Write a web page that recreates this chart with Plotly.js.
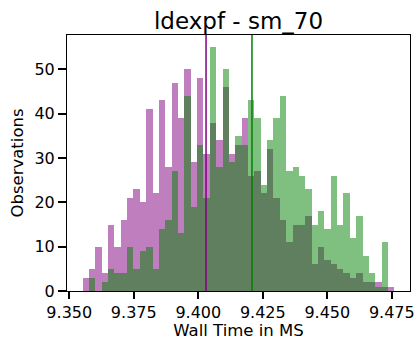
<!DOCTYPE html>
<html>
<head>
<meta charset="utf-8">
<script src="https://cdn.plot.ly/plotly-3.0.1.min.js"></script>
<style>
  html, body { margin: 0; padding: 0; background: #fff; }
  #chart { width: 418px; height: 340px; }
</style>
</head>
<body>
<div id="chart"></div>
<script>
// ---- Data ----
const binStart = 9.35516;      // left edge of the first histogram bin
const binWidth = 0.002466;     // shared bin width
const purpleCounts = [3,5,10,4,15,10,16,21,23,20,41,22,43,28,47,39,50,29,48,31,38,34,46,31,33,39,26,27,22,32,21,16,11,15,15,17,6,10,7,6,5,4,3,4,2,2,2,1,1];
const greenCounts  = [0,3,0,2,5,4,4,10,5,9,10,5,14,16,27,13,44,19,33,21,55,28,50,29,35,33,43,39,24,34,39,44,27,28,26,23,15,18,14,26,15,22,12,17,8,4,1,11,0];
const purpleMean = 9.4030;
const greenMean = 9.4208;
const xTickVals = [9.350, 9.375, 9.400, 9.425, 9.450, 9.475];
const xTickText = ["9.350", "9.375", "9.400", "9.425", "9.450", "9.475"];
const yTickVals = [0, 10, 20, 30, 40, 50];
const titleText = "ldexpf - sm_70";
const xTitle = "Wall Time in MS";
const yTitle = "Observations";

const centers = (arr) => arr.map((_, i) => binStart + (i + 0.5) * binWidth);

const traces = [
  {
    type: 'bar', x: centers(purpleCounts), y: purpleCounts, width: binWidth,
    marker: { color: 'rgba(128,0,128,0.5)', line: { width: 0 } },
    hoverinfo: 'skip', showlegend: false
  },
  {
    type: 'bar', x: centers(greenCounts), y: greenCounts, width: binWidth,
    marker: { color: 'rgba(0,128,0,0.5)', line: { width: 0 } },
    hoverinfo: 'skip', showlegend: false
  }
];

const font = "DejaVu Sans, sans-serif";
const layout = {
  width: 418, height: 340,
  margin: { l: 67, r: 8, t: 35, b: 49, pad: 0 },
  paper_bgcolor: '#fff', plot_bgcolor: '#fff',
  barmode: 'overlay', bargap: 0,
  font: { family: font, size: 16, color: '#000' },
  title: {
    text: titleText, font: { family: font, size: 23, color: '#000' },
    x: 0.5, xref: 'paper', xanchor: 'center',
    y: 1, yref: 'paper', yanchor: 'bottom', pad: { b: 6 }
  },
  xaxis: {
    range: [9.34912, 9.48204], tickmode: 'array', tickvals: xTickVals, ticktext: xTickText,
    ticks: 'outside', ticklen: 7, tickwidth: 2, tickcolor: '#000',
    showline: true, linecolor: '#000', linewidth: 1, mirror: true,
    showgrid: false, zeroline: false,
    tickfont: { family: font, size: 16, color: '#000' },
    title: { text: xTitle, font: { family: font, size: 16.5, color: '#000' }, standoff: 4 }
  },
  yaxis: {
    range: [0, 57.75], tickmode: 'array', tickvals: yTickVals,
    ticks: 'outside', ticklen: 8, tickwidth: 2, tickcolor: '#000',
    showline: true, linecolor: '#000', linewidth: 1, mirror: true,
    showgrid: false, zeroline: false,
    tickfont: { family: font, size: 16, color: '#000' },
    title: { text: yTitle, font: { family: font, size: 16.5, color: '#000' }, standoff: 6 }
  },
  shapes: [
    { type: 'line', xref: 'x', yref: 'paper', x0: purpleMean, x1: purpleMean, y0: 0, y1: 1,
      line: { color: 'purple', width: 1.5 } },
    { type: 'line', xref: 'x', yref: 'paper', x0: greenMean, x1: greenMean, y0: 0, y1: 1,
      line: { color: 'green', width: 1.5 } }
  ]
};

Plotly.newPlot('chart', traces, layout, { staticPlot: true, displayModeBar: false });
</script>
</body>
</html>
